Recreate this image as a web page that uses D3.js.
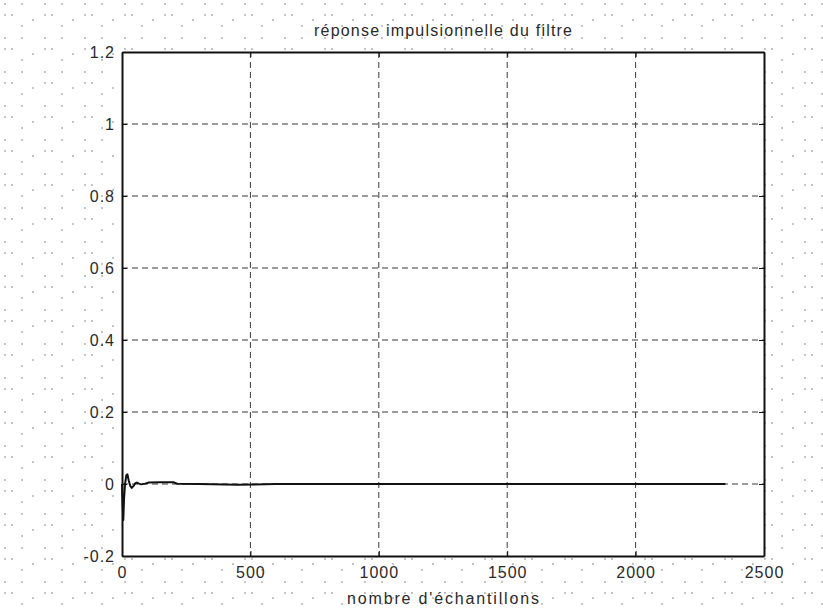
<!DOCTYPE html>
<html>
<head>
<meta charset="utf-8">
<script src="https://cdn.jsdelivr.net/npm/d3@7"></script>
<style>
  html, body { margin: 0; padding: 0; background: #fff; }
  svg { display: block; }
  text { font-family: "Liberation Sans", Arial, Helvetica, sans-serif; fill: #2a2a2a; }
</style>
</head>
<body>
<svg id="chart" width="823" height="614"></svg>
<script>
// Impulse response of the filter: sample index and amplitude
const sampleIdx = [0, 2, 5, 8, 12, 17, 21, 26, 32, 38, 45, 52, 58, 66, 75, 90, 105, 150, 200, 215, 300, 450, 600, 2350];
const response  = [0, -0.05, -0.1, -0.04, 0.0, 0.025, 0.027, 0.01, -0.005, -0.011, -0.005, 0.002, 0.004, 0.001, -0.001, 0.001, 0.004, 0.005, 0.005, 0.001, 0.0, -0.002, 0.0, 0.0];

// Axis ticks
const xTicks = [0, 500, 1000, 1500, 2000, 2500];
const yTicks = [-0.2, 0, 0.2, 0.4, 0.6, 0.8, 1, 1.2];

const titleText = "réponse impulsionnelle du filtre";
const xLabelText = "nombre d'échantillons";

const svg = d3.select("#chart");
const L = 122, R = 764, T = 52, B = 556;

const x = d3.scaleLinear().domain([0, 2500]).range([L, R]);
const y = d3.scaleLinear().domain([-0.2, 1.2]).range([B, T]);

// Faint halftone dot texture around the axes
const pat = svg.append("defs").append("pattern")
  .attr("id", "dots").attr("patternUnits", "userSpaceOnUse")
  .attr("width", 40).attr("height", 34);
[[5, 4], [22, 4], [5, 15], [12, 15], [22, 26], [33, 20]].forEach(([cx, cy]) =>
  pat.append("circle").attr("cx", cx).attr("cy", cy).attr("r", 0.9).attr("fill", "#a8a8a8"));
svg.append("rect").attr("width", 823).attr("height", 614).attr("fill", "url(#dots)");
svg.append("rect").attr("x", L).attr("y", T).attr("width", R - L).attr("height", B - T).attr("fill", "#fff");

// Dashed grid
const grid = svg.append("g").attr("stroke", "#3a3a3a").attr("stroke-width", 1)
  .attr("stroke-dasharray", "6,4");
grid.selectAll("line.gx").data(xTicks.slice(1, -1)).join("line")
  .attr("x1", d => x(d)).attr("x2", d => x(d)).attr("y1", T).attr("y2", B);
grid.selectAll("line.gy").data(yTicks.slice(1, -1)).join("line")
  .attr("y1", d => y(d)).attr("y2", d => y(d)).attr("x1", L).attr("x2", R);

// Signal
const line = d3.line().x((d, i) => x(sampleIdx[i])).y(d => y(d));
svg.append("path").datum(response)
  .attr("d", line).attr("fill", "none").attr("stroke", "#111")
  .attr("stroke-width", 2).attr("stroke-linejoin", "round");

// Axes (ticks pointing inward, box all around)
const fmt = d => String(d);
const axB = svg.append("g").attr("transform", `translate(0,${B})`)
  .call(d3.axisBottom(x).tickValues(xTicks).tickFormat(fmt).tickSizeInner(-5).tickSizeOuter(0).tickPadding(11));
const axL = svg.append("g").attr("transform", `translate(${L},0)`)
  .call(d3.axisLeft(y).tickValues(yTicks).tickFormat(fmt).tickSizeInner(-5).tickSizeOuter(0).tickPadding(7));
const axT = svg.append("g").attr("transform", `translate(0,${T})`)
  .call(d3.axisTop(x).tickValues(xTicks).tickFormat("").tickSizeInner(-5).tickSizeOuter(0));
const axR = svg.append("g").attr("transform", `translate(${R},0)`)
  .call(d3.axisRight(y).tickValues(yTicks).tickFormat("").tickSizeInner(-5).tickSizeOuter(0));

[axB, axL, axT, axR].forEach(g => {
  g.select(".domain").attr("stroke", "#111").attr("stroke-width", 2);
  g.selectAll(".tick line").attr("stroke", "#111");
  g.selectAll(".tick text").attr("font-size", 16).attr("fill", "#2a2a2a")
    .attr("letter-spacing", "1px").style("font-family", '"Liberation Sans", Arial, sans-serif');
});

// Title and axis label
svg.append("text").attr("x", (L + R) / 2).attr("y", 36)
  .attr("text-anchor", "middle").attr("font-size", 16)
  .attr("textLength", 258).attr("lengthAdjust", "spacing")
  .text(titleText);
svg.append("text").attr("x", (L + R) / 2).attr("y", 604)
  .attr("text-anchor", "middle").attr("font-size", 16)
  .attr("textLength", 192).attr("lengthAdjust", "spacing")
  .text(xLabelText);
</script>
</body>
</html>
